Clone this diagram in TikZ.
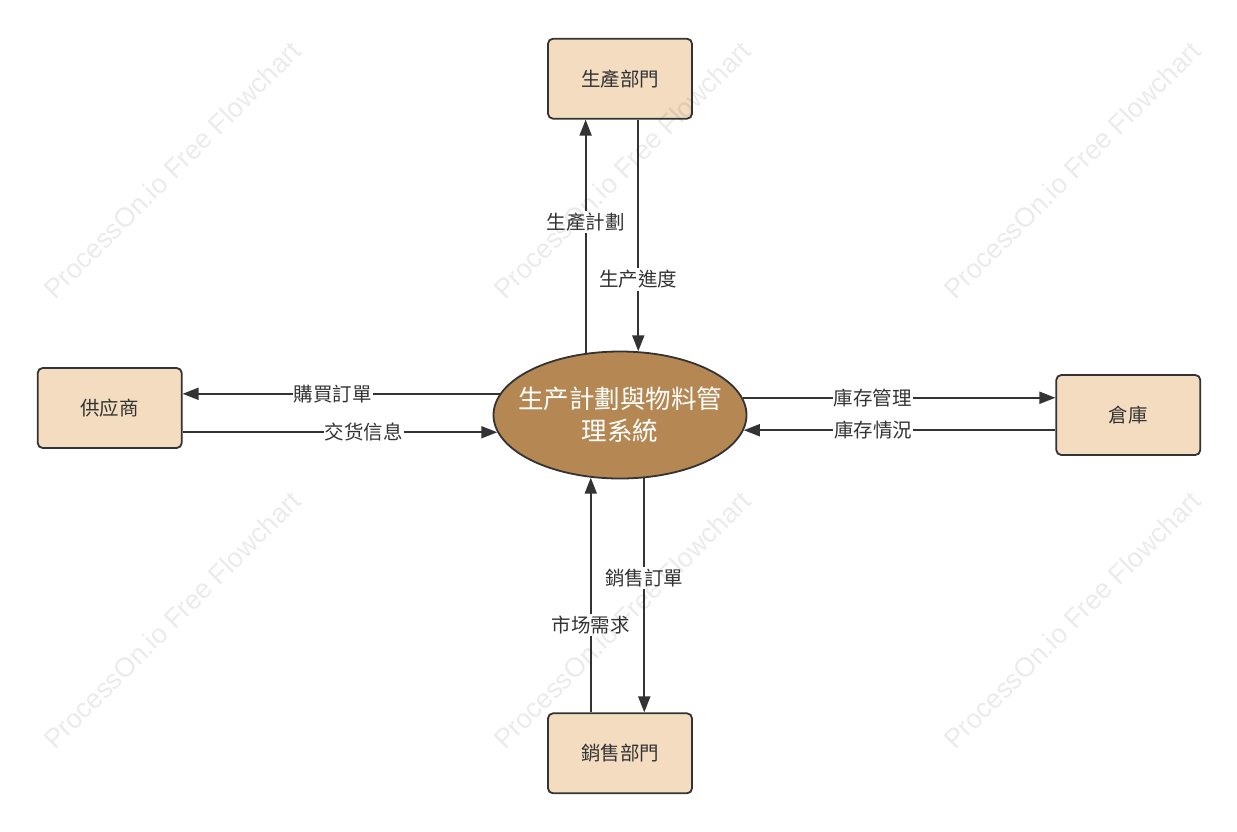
\documentclass[tikz,border=0pt]{standalone}
\usepackage{fontspec}
\setmainfont{Noto Sans CJK TC}
\newfontfamily\wmfont{Liberation Sans}
\usetikzlibrary{arrows.meta,positioning,shapes.geometric}
\definecolor{boxfill}{HTML}{F3DCC0}
\definecolor{procfill}{HTML}{B58853}
\definecolor{edgecol}{HTML}{333333}
\tikzset{
  >={Triangle[length=16pt,width=12pt]},
  ent/.style={
    draw=edgecol, fill=boxfill, rectangle, rounded corners=5pt, line width=1.8pt,
    minimum width=144pt, minimum height=80pt, align=center, text=edgecol,
    font=\fontsize{19.5}{23}\selectfont
  },
  proc/.style={
    draw=edgecol, fill=procfill, ellipse, line width=1.8pt, align=center,
    minimum width=253pt, minimum height=127pt, inner sep=0pt, inner xsep=-40pt,
    text=white, font=\fontsize{25.5}{32}\selectfont
  },
  flow/.style={->, draw=edgecol, line width=1.9pt},
  lbl/.style={fill=white, inner xsep=1pt, inner ysep=2pt, text=edgecol, font=\fontsize{19.5}{23}\selectfont},
  wmark/.style={text=black, opacity=0.08, rotate=45, font=\wmfont\fontsize{27}{30}\selectfont},
}
\begin{document}
\begin{tikzpicture}[x=1pt, y=-1pt]
  \useasboundingbox (0,0) rectangle (1237,831);
  \node[proc] (sys) at (620,415) {生产計劃與物料管\\理系統};
  \node[ent, above=231pt of sys] (prod) {生產部門};
  \node[ent, below=233pt of sys] (sales) {銷售部門};
  \node[ent, left=310pt of sys, yshift=7pt] (sup) {供应商};
  \node[ent, right=308pt of sys] (wh) {倉庫};
  \draw[flow] (sys.119) -- (sys.119 |- prod.south) node[lbl, pos=0.56] (l1) {生產計劃};
  \draw[flow] (prod.south -| sys.74) -- (sys.74) node[lbl, pos=0.69] (l2) {生产進度};
  \draw[flow] (sys.170) -- (sys.170 -| sup.east) node[lbl, pos=0.527] (l3) {購買訂單};
  \draw[flow] (sys.188 -| sup.east) -- (sys.188) node[lbl, pos=0.576] (l4) {交货信息};
  \draw[flow] (sys.8) -- (sys.8 -| wh.west) node[lbl, pos=0.416] (l5) {庫存管理};
  \draw[flow] (sys.353 -| wh.west) -- (sys.353) node[lbl, pos=0.585] (l6) {庫存情況};
  \draw[flow] (sales.north -| sys.245) -- (sys.245) node[lbl, pos=0.374] (l7) {市场需求};
  \draw[flow] (sys.291) -- (sys.291 |- sales.north) node[lbl, pos=0.425] (l8) {銷售訂單};
  % watermark
  \foreach \wx in {172,622,1072}
    \foreach \wy in {170,620}
      \node[wmark] (wm-\wx-\wy) at (\wx,\wy) {ProcessOn.io Free Flowchart};
\end{tikzpicture}
\end{document}
